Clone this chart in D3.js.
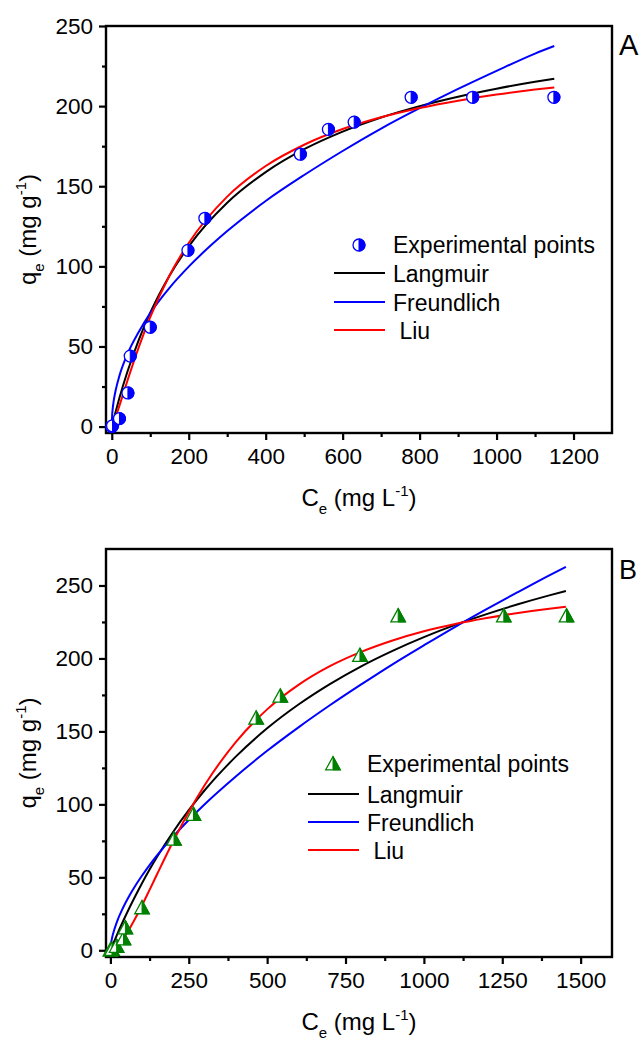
<!DOCTYPE html>
<html>
<head>
<meta charset="utf-8">
<script src="https://cdn.jsdelivr.net/npm/d3@7"></script>
<style>
html,body{margin:0;padding:0;background:#fff;}
svg{display:block;}
text{font-family:"Liberation Sans",Arial,sans-serif;fill:#000;}
</style>
</head>
<body>
<svg id="chart" width="643" height="1040"></svg>
<script>
// ---------- Panel A data ----------
const A_ce = [0, 2, 20, 42, 48, 100, 198, 242, 490, 563, 630, 778, 938, 1149];
const A_qe = [0, 0.5, 5, 21, 44, 62, 110, 130, 170, 185.5, 190, 205.5, 205.5, 205.5];
const A_fitC = [0, 1, 2, 5, 10, 20, 40, 70, 100, 150, 200, 300, 400, 500, 600, 700, 800, 900, 1000, 1100, 1150];
const A_langmuir = [0, 0.96, 1.91, 4.74, 9.3, 18, 33.75, 54, 71.1, 94.2, 112.5, 139.7, 158.8, 173.1, 184.1, 192.9, 200, 205.9, 210.9, 215.2, 217.1];
const A_freundlich = [0, 7.2, 10.2, 16.0, 22.5, 31.8, 44.9, 59, 70.8, 86.6, 99.8, 122, 140.8, 157, 172, 186, 198.7, 210.7, 222, 232.8, 237.5];
const A_liu = [0, 0.38, 0.87, 2.6, 5.9, 13.1, 28.1, 49.4, 68.3, 94.3, 114.6, 143.5, 162.6, 175.9, 185.7, 193.0, 198.8, 203.4, 207.2, 210.3, 211.6];
const A_xTicks = [0, 200, 400, 600, 800, 1000, 1200];
const A_xMinor = [100, 300, 500, 700, 900, 1100];
const A_yTicks = [0, 50, 100, 150, 200, 250];
const A_yMinor = [25, 75, 125, 175, 225];

// ---------- Panel B data ----------
const B_ce = [0, 5, 20, 42, 48, 101, 203, 265, 465, 542, 796, 918, 1255, 1455];
const B_qe = [0, 0.5, 2.6, 7.7, 15.2, 29, 76, 93, 159, 174, 202, 229, 229, 229];
const B_fitC = [0, 1, 2, 5, 10, 20, 40, 60, 80, 100, 125, 150, 200, 250, 300, 400, 500, 600, 700, 800, 900, 1000, 1100, 1200, 1300, 1400, 1453];
const B_langmuir = [0, 0.52, 1.04, 2.59, 5.14, 10.1, 19.7, 28.8, 37.4, 45.6, 55.3, 64.4, 81.1, 96.0, 109.5, 132.7, 152.1, 168.4, 182.4, 194.6, 205.2, 214.6, 223.0, 230.4, 237.1, 243.2, 246.2];
const B_freundlich = [0, 3.0, 4.6, 8.1, 12.4, 19.0, 29.0, 37.2, 44.4, 50.9, 58.4, 65.3, 77.9, 89.3, 99.9, 119.1, 136.7, 152.8, 167.9, 182.2, 196.0, 209.0, 221.7, 233.8, 245.5, 257.0, 262.8];
const B_liu = [0, 0.02, 0.07, 0.29, 0.86, 2.6, 7.7, 14.4, 22.1, 30.4, 41.4, 52.6, 74.5, 94.8, 112.9, 142.7, 165.1, 181.9, 194.7, 204.5, 212.3, 218.6, 223.6, 227.7, 231.2, 234.1, 235.4];
const B_xTicks = [0, 250, 500, 750, 1000, 1250, 1500];
const B_xMinor = [125, 375, 625, 875, 1125, 1375];
const B_yTicks = [0, 50, 100, 150, 200, 250];
const B_yMinor = [25, 75, 125, 175, 225];

const seriesNames = ["Langmuir", "Freundlich", " Liu"];
const seriesColors = ["#000000", "#0000ff", "#ff0000"];

const svg = d3.select("#chart");

function zip(xs, ys){ return xs.map((x,i)=>[x, ys[i]]); }

function drawPanel(cfg){
  const g = svg.append("g");
  const x = d3.scaleLinear().domain(cfg.xDomain).range([cfg.left, cfg.right]);
  const y = d3.scaleLinear().domain(cfg.yDomain).range([cfg.bottom, cfg.top]);

  const xMinorAxis = d3.axisBottom(x).tickValues(cfg.xMinor).tickSize(4).tickFormat("");
  const yMinorAxis = d3.axisLeft(y).tickValues(cfg.yMinor).tickSize(4).tickFormat("");
  const xAxis = d3.axisBottom(x).tickValues(cfg.xTicks).tickSize(7).tickPadding(8).tickFormat(d3.format("d"));
  const yAxis = d3.axisLeft(y).tickValues(cfg.yTicks).tickSize(7).tickPadding(6).tickFormat(d3.format("d"));

  [ [xMinorAxis, `translate(0,${cfg.bottom})`], [xAxis, `translate(0,${cfg.bottom})`],
    [yMinorAxis, `translate(${cfg.left},0)`], [yAxis, `translate(${cfg.left},0)`] ].forEach(([ax, tr])=>{
    const a = g.append("g").attr("transform", tr).call(ax);
    a.select(".domain").remove();
    a.selectAll("line").attr("stroke","#000").attr("stroke-width",2.2);
    a.selectAll("text").attr("font-size",22.5).attr("font-family","Liberation Sans, Arial, sans-serif").attr("fill","#000");
  });

  g.append("rect").attr("x",cfg.left).attr("y",cfg.top)
    .attr("width",cfg.right-cfg.left).attr("height",cfg.bottom-cfg.top)
    .attr("fill","none").attr("stroke","#000").attr("stroke-width",2.4);

  const line = d3.line().x(d=>x(d[0])).y(d=>y(d[1])).curve(d3.curveMonotoneX);
  cfg.fits.forEach((f,i)=>{
    g.append("path").datum(zip(cfg.fitC, f)).attr("d", line)
      .attr("fill","none").attr("stroke", seriesColors[i]).attr("stroke-width",2);
  });

  zip(cfg.ce, cfg.qe).forEach(d=>{
    cfg.marker(g, x(d[0]), y(d[1]));
  });

  const L = cfg.legend;
  cfg.marker(g, L.markerX, L.rowY[0]);
  g.append("text").attr("x",L.textX).attr("y",L.rowY[0]+8).attr("font-size",23).text("Experimental points");
  seriesNames.forEach((n,i)=>{
    const yy = L.rowY[i+1];
    g.append("line").attr("x1",L.lineX1).attr("x2",L.lineX2).attr("y1",yy).attr("y2",yy)
      .attr("stroke",seriesColors[i]).attr("stroke-width",2);
    g.append("text").attr("x",L.textX).attr("y",yy+9).attr("font-size",23)
      .attr("xml:space","preserve").style("white-space","pre").text(n);
  });

  const cx = (cfg.left+cfg.right)/2;
  const xt = g.append("text").attr("x",cx).attr("y",cfg.bottom+73).attr("font-size",24).attr("text-anchor","middle");
  xt.append("tspan").text("C");
  xt.append("tspan").attr("font-size",15).attr("dy",8).text("e");
  xt.append("tspan").attr("dy",-8).style("white-space","pre").text(" (mg L");
  xt.append("tspan").attr("font-size",15).attr("dy",-10).text("-1");
  xt.append("tspan").attr("dy",10).text(")");

  const cy = (cfg.top+cfg.bottom)/2;
  const yt = g.append("text").attr("transform",`translate(36,${cy}) rotate(-90)`).attr("font-size",24).attr("text-anchor","middle");
  yt.append("tspan").text("q");
  yt.append("tspan").attr("font-size",15).attr("dy",8).text("e");
  yt.append("tspan").attr("dy",-8).style("white-space","pre").text(" (mg g");
  yt.append("tspan").attr("font-size",15).attr("dy",-10).text("-1");
  yt.append("tspan").attr("dy",10).text(")");

  g.append("text").attr("x",619).attr("y",cfg.letterY).attr("font-size",cfg.letterSize).text(cfg.letter);
}

function circleMarker(g, cx, cy){
  const r = 6, c = "#0000ff";
  const m = g.append("g").attr("transform",`translate(${cx},${cy})`);
  m.append("circle").attr("r",r).attr("fill","#fff").attr("stroke",c).attr("stroke-width",1.3);
  m.append("path").attr("d",`M0,${-r} A${r},${r} 0 0 1 0,${r} Z`).attr("fill",c).attr("stroke",c).attr("stroke-width",1);
}
function triMarker(g, cx, cy){
  const c = "#008000";
  const m = g.append("g").attr("transform",`translate(${cx},${cy})`);
  m.append("path").attr("d","M0,-7.5 L7.3,5.8 L-7.3,5.8 Z").attr("fill","#fff").attr("stroke",c).attr("stroke-width",1.3);
  m.append("path").attr("d","M0,-7.5 L7.3,5.8 L0,5.8 Z").attr("fill",c).attr("stroke",c).attr("stroke-width",1);
}

drawPanel({
  left:106, right:612, top:26, bottom:433,
  xDomain:[-15,1300], yDomain:[-4,250],
  xTicks:A_xTicks, xMinor:A_xMinor, yTicks:A_yTicks, yMinor:A_yMinor,
  fitC:A_fitC, fits:[A_langmuir, A_freundlich, A_liu],
  ce:A_ce, qe:A_qe, marker:circleMarker,
  legend:{markerX:359, textX:393, lineX1:334, lineX2:385, rowY:[245,273,302,330]},
  letter:"A", letterY:55, letterSize:29
});
drawPanel({
  left:106, right:612, top:549, bottom:957,
  xDomain:[-14,1600], yDomain:[-4.6,275],
  xTicks:B_xTicks, xMinor:B_xMinor, yTicks:B_yTicks, yMinor:B_yMinor,
  fitC:B_fitC, fits:[B_langmuir, B_freundlich, B_liu],
  ce:B_ce, qe:B_qe, marker:triMarker,
  legend:{markerX:333, textX:367, lineX1:308, lineX2:359, rowY:[764,794,822,850]},
  letter:"B", letterY:579, letterSize:27
});
</script>
</body>
</html>
